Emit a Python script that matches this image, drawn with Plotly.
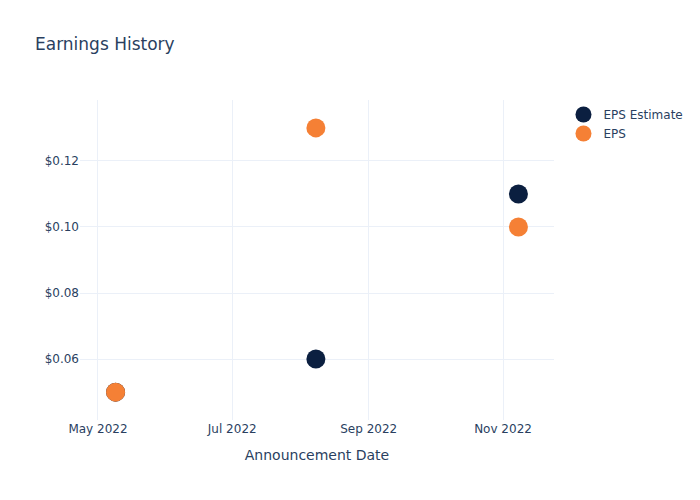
import plotly.graph_objects as go

dates = ["2022-05-09", "2022-08-08", "2022-11-08"]
eps_estimate = [0.05, 0.06, 0.11]
eps_actual = [0.05, 0.13, 0.10]

fig = go.Figure()
fig.add_trace(go.Scatter(x=dates, y=eps_estimate, mode="markers", name="EPS Estimate",
                         marker=dict(color="#0b1f40", size=19)))
fig.add_trace(go.Scatter(x=dates, y=eps_actual, mode="markers", name="EPS",
                         marker=dict(color="#f58035", size=19)))
fig.update_layout(
    template="plotly_white",
    width=700, height=500,
    font=dict(family="DejaVu Sans"),
    title="Earnings History",
    xaxis_title="Announcement Date",
    yaxis=dict(tickprefix="$", tickformat=".2f"),
)
fig.write_html("out.html")
